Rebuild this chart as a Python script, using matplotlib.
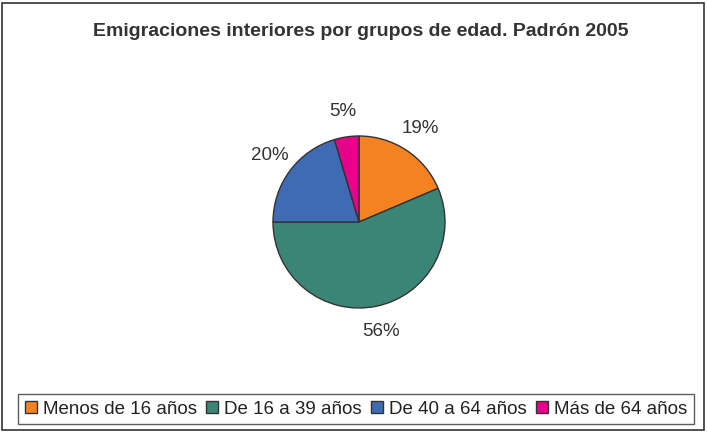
import matplotlib
matplotlib.use("Agg")
import matplotlib.pyplot as plt
from matplotlib.patches import Rectangle

# ---------------------------------------------------------------------
TITLE      = "Emigraciones interiores por grupos de edad. Padrón 2005"
CATEGORIAS = ["Menos de 16 años", "De 16 a 39 años", "De 40 a 64 años", "Más de 64 años"]
VALORES    = [18.6, 56.4, 20.4, 4.6]
COLORES    = ["#F58220", "#3A8575", "#3E6BB4", "#E6008A"]

W, H = 707, 432
plt.rcParams["font.family"] = ["Liberation Sans", "DejaVu Sans"]

fig = plt.figure(figsize=(W / 100, H / 100), dpi=100)

# cadre extérieur
fig.patches.append(Rectangle((2 / W, 2 / H), (W - 5) / W, (H - 5) / H,
                             transform=fig.transFigure, fill=False,
                             edgecolor="#333333", linewidth=1.2))

fig.text(361 / W, 1 - 31 / H, TITLE, ha="center", va="center",
         fontsize=14, fontweight="bold", color="#333333")

# camembert : centre (359, 222), rayon 86 px
cx, cy, r = 359, 222, 86
ax = fig.add_axes([(cx - r) / W, (H - cy - r) / H, 2 * r / W, 2 * r / H])
wedges, texts, autotexts = ax.pie(
    VALORES, colors=COLORES, startangle=90, counterclock=False,
    autopct=lambda p: f"{p:.0f}%", pctdistance=1.3,
    wedgeprops=dict(edgecolor="#333333", linewidth=1.0),
    textprops=dict(fontsize=13.5, color="#333333"),
)
ax.set_xlim(-1, 1)
ax.set_ylim(-1, 1)
ax.set_aspect("equal")

leg = fig.legend(wedges, CATEGORIAS, loc="center", ncol=4,
                 bbox_to_anchor=(356 / W, 1 - 409 / H),
                 fontsize=13.5, frameon=True, fancybox=False,
                 handlelength=0.65, handleheight=0.65, handletextpad=0.3,
                 columnspacing=0.5, borderpad=0.35, borderaxespad=0)
leg.get_frame().set_edgecolor("#333333")
leg.get_frame().set_linewidth(1.0)
for t in leg.get_texts():
    t.set_color("#222222")

fig.savefig("out.png", dpi=100)
